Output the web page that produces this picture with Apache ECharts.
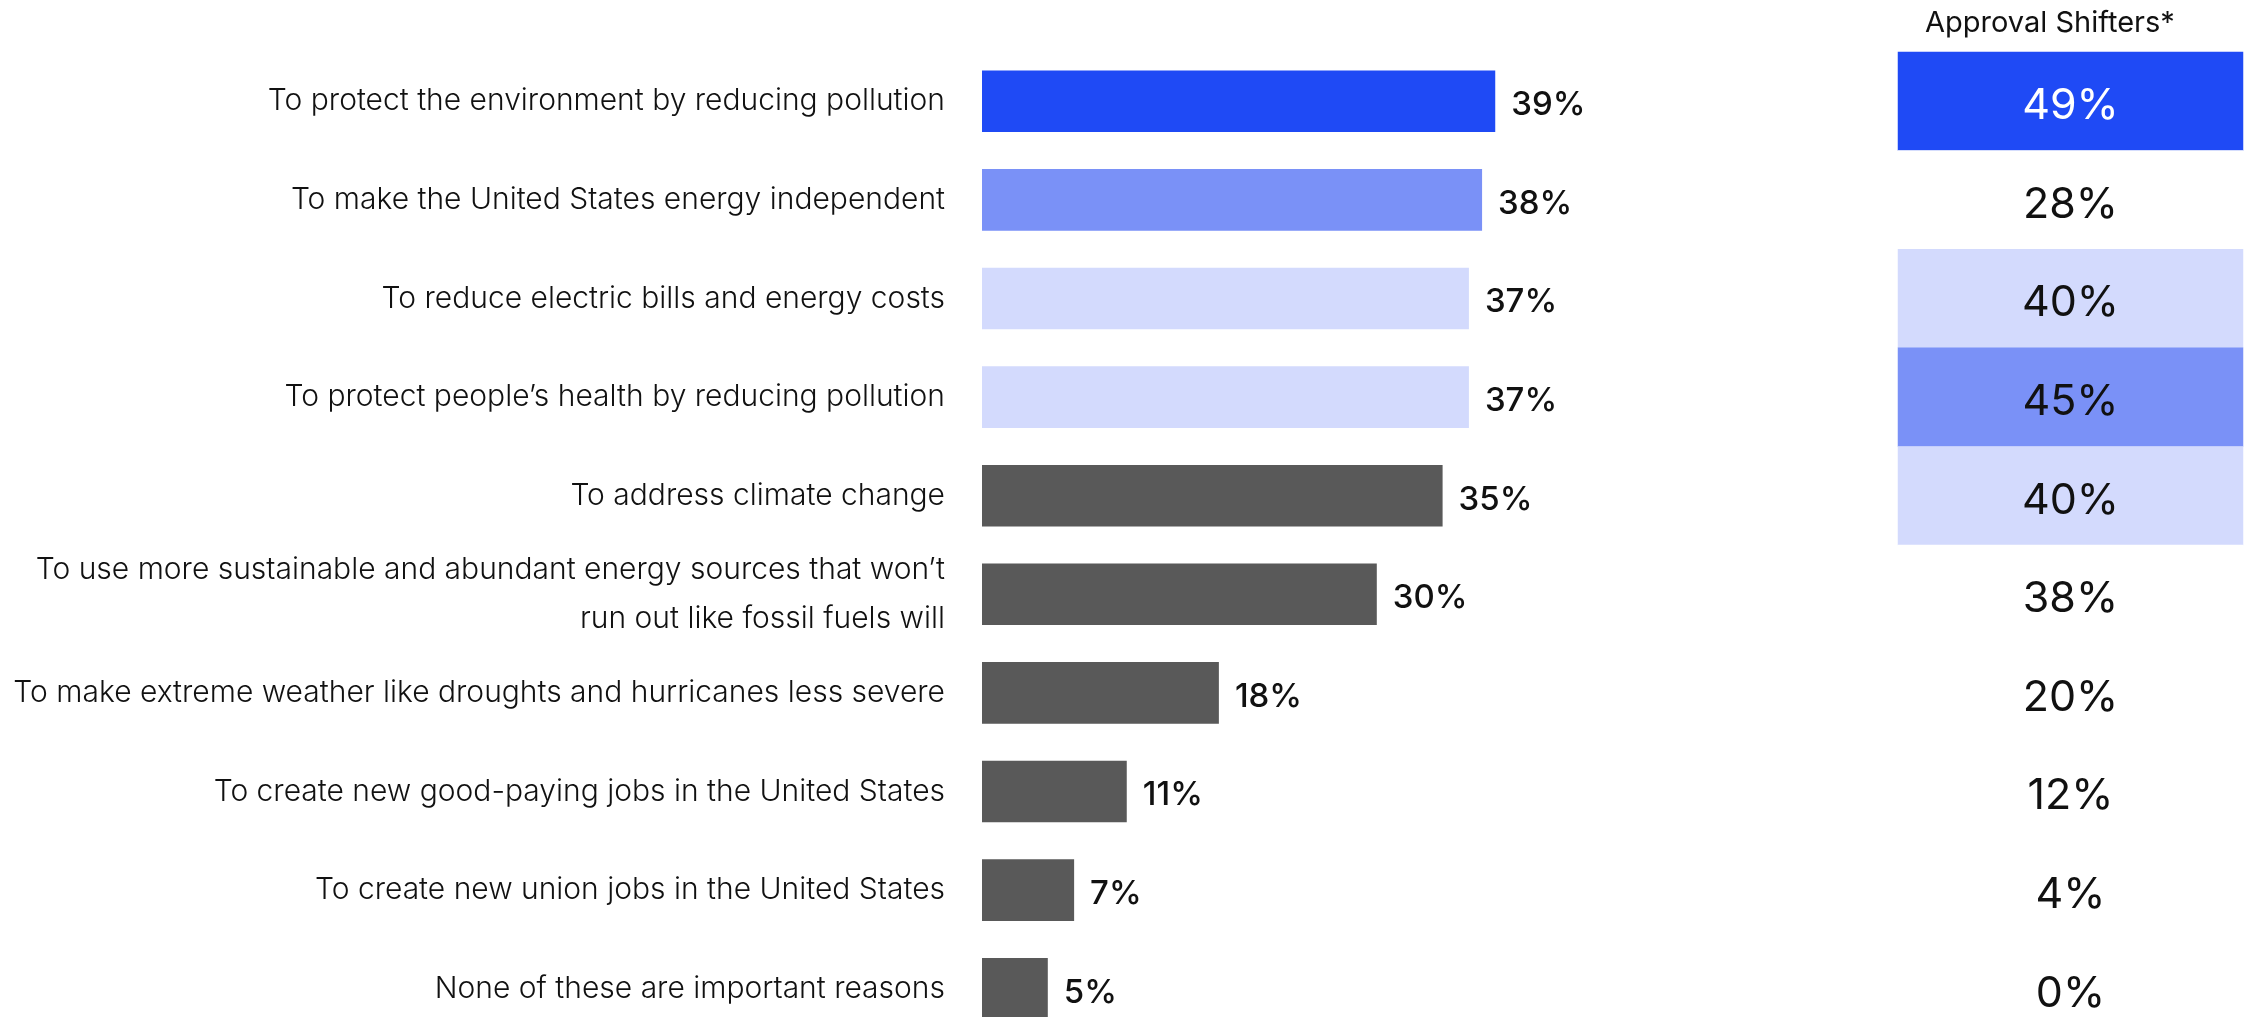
<!DOCTYPE html>
<html>
<head>
<meta charset="utf-8">
<style>
  html, body { margin: 0; padding: 0; background: #ffffff; }
  #chart { width: 2251px; height: 1017px; }
</style>
<script src="https://cdn.jsdelivr.net/npm/echarts@6/dist/echarts.min.js"></script>
</head>
<body>
<div id="chart"></div>
<script>
const categories = [
  'To protect the environment by reducing pollution',
  'To make the United States energy independent',
  'To reduce electric bills and energy costs',
  'To protect people\u2019s health by reducing pollution',
  'To address climate change',
  'To use more sustainable and abundant energy sources that won\u2019t\nrun out like fossil fuels will',
  'To make extreme weather like droughts and hurricanes less severe',
  'To create new good-paying jobs in the United States',
  'To create new union jobs in the United States',
  'None of these are important reasons'
];
const allValues = [39, 38, 37, 37, 35, 30, 18, 11, 7, 5];
const shifterValues = [49, 28, 40, 45, 40, 38, 20, 12, 4, 0];
const shifterHeader = 'Approval Shifters*';

const DARK = '#1F4AF5', MID = '#7A91F7', LIGHT = '#D3DAFD';
function rankColor(values, base) {
  const distinct = Array.from(new Set(values)).sort((a, b) => b - a);
  const palette = [DARK, MID, LIGHT];
  return values.map(v => {
    const r = distinct.indexOf(v);
    return r < palette.length ? palette[r] : base;
  });
}
const barColors = rankColor(allValues, '#595959');
const cellColors = rankColor(shifterValues, '#FFFFFF');

const chart = echarts.init(document.getElementById('chart'), null, { renderer: 'canvas' });

const GRID_TOP = 52, GRID_HEIGHT = 986;

chart.setOption({
  backgroundColor: '#ffffff',
  animation: false,
  grid: [
    { left: 982, width: 658, top: GRID_TOP, height: GRID_HEIGHT, containLabel: false, outerBoundsMode: 'none' },
    { left: 1898, width: 345, top: GRID_TOP, height: GRID_HEIGHT, containLabel: false, outerBoundsMode: 'none' }
  ],
  xAxis: [
    { type: 'value', gridIndex: 0, min: 0, max: 50, show: false },
    { type: 'category', gridIndex: 1, data: [shifterHeader], show: false }
  ],
  yAxis: [
    {
      type: 'category', gridIndex: 0, data: categories, inverse: true,
      axisLine: { show: false }, axisTick: { show: false }, splitLine: { show: false },
      axisLabel: {
        margin: 37, color: '#111111', fontFamily: 'Inter', fontWeight: 300,
        fontSize: 30, lineHeight: 49, align: 'right'
      }
    },
    {
      type: 'category', gridIndex: 1, data: categories, inverse: true, show: false
    }
  ],
  graphic: [
    {
      type: 'text', left: 1925, top: 9,
      style: { text: shifterHeader, fontFamily: 'Inter', fontSize: 29, fontWeight: 400, fill: '#111111' }
    }
  ],
  series: [
    {
      type: 'bar', xAxisIndex: 0, yAxisIndex: 0,
      barWidth: '62.5%',
      data: allValues.map((v, i) => ({ value: v, itemStyle: { color: barColors[i] } })),
      label: {
        show: true, position: 'right', distance: 16, offset: [0, 4],
        formatter: p => p.value + '%',
        fontFamily: 'Inter', fontWeight: 500, fontSize: 33, color: '#111111'
      }
    },
    {
      type: 'heatmap', xAxisIndex: 1, yAxisIndex: 1,
      data: shifterValues.map((v, i) => ({
        value: [0, i, v],
        itemStyle: { color: cellColors[i] },
        label: { color: cellColors[i] === DARK ? '#ffffff' : '#111111' }
      })),
      label: {
        show: true, offset: [0, 5],
        formatter: p => p.value[2] + '%',
        fontFamily: 'Inter', fontWeight: 400, fontSize: 43
      },
      emphasis: { disabled: true }
    }
  ]
});
</script>
</body>
</html>
